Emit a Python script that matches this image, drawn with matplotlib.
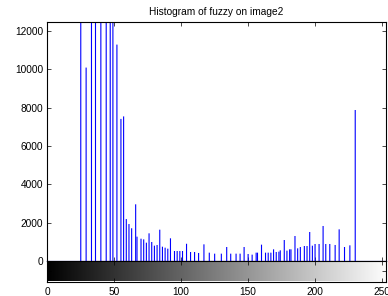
import numpy as np
import matplotlib
matplotlib.use("Agg")
import matplotlib.pyplot as plt

plt.rcParams['font.family'] = ['Liberation Sans', 'DejaVu Sans']

# histogram bins (gray levels) and counts
bins = [25, 29, 33, 36, 40, 44, 47, 49, 52, 55, 57,
        59, 61, 63, 66, 67, 70, 72, 74, 76, 78, 80, 82, 84, 86, 88, 90, 92,
        95, 97, 99, 101, 104, 107, 110, 113, 117, 121, 125, 130, 134, 137,
        141, 144, 147, 150, 153, 156, 157, 160, 163, 165, 167, 169, 171, 173,
        174, 177, 179, 181, 182, 185, 187, 189, 192, 194, 196, 198, 200, 203,
        206, 208, 211, 215, 218, 222, 226, 230]
counts = [24000, 10100, 26000, 21000, 30000, 19000, 23000, 17000, 11300, 7420, 7550,
          2190, 1930, 1710, 2960, 1270, 1165, 1130, 957, 1445, 992, 800, 836, 1635, 747, 695, 643, 1185,
          522, 522, 520, 522, 900, 470, 470, 418, 870, 435, 383, 383, 731, 383,
          383, 383, 731, 366, 331, 435, 435, 853, 435, 435, 435, 609, 470, 487,
          557, 1096, 540, 609, 609, 1305, 661, 731, 783, 783, 1514, 800, 888, 888,
          1828, 888, 888, 836, 1653, 731, 818, 7885]

yticks = [0, 2000, 4000, 6000, 8000, 10000, 12000]
xticks = [0, 50, 100, 150, 200, 250]
title = "Histogram of fuzzy on image2"

W, H = 388, 296
fig = plt.figure(figsize=(W / 100, H / 100), dpi=100)

left, right = 47.3, 385.5
top, mid, bot = 22.0, 261.0, 281.5
xmax = (right - left) / 1.3388

ax = fig.add_axes([left / W, 1 - mid / H, (right - left) / W, (mid - top) / H])
cax = fig.add_axes([left / W, 1 - bot / H, (right - left) / W, (bot - mid) / H])

fs = 7.3
stems = ax.vlines(bins, 0, counts, colors='#0000ff', linewidth=0.8)
stems.set_snap(False)
ax.axhline(0, color='#0000ff', linewidth=0.8, zorder=5, clip_on=False)
ax.set_xlim(0, xmax)
ax.set_ylim(0, 12480)
ax.set_yticks(yticks)
ax.set_yticklabels([str(v) for v in yticks])
ax.set_xticks(xticks)
ax.set_xticklabels([])
ax.tick_params(direction='in', length=3, width=0.5, labelsize=fs, pad=3,
               top=True, right=True, colors='black')
for s in ax.spines.values():
    s.set_linewidth(0.8)
ax.set_title(title, fontsize=fs, pad=5)

grad = np.linspace(0, 1, 256)[None, :]
cax.imshow(grad, cmap='gray', aspect='auto', extent=[-0.5, 255.5, 0, 1],
           vmin=0, vmax=1, interpolation='bilinear')
cax.set_xlim(0, xmax)
cax.set_ylim(0, 1)
cax.set_xticks(xticks)
cax.set_xticklabels([str(v) for v in xticks])
cax.set_yticks([0.5])
cax.set_yticklabels([])
cax.tick_params(direction='in', length=3, width=0.5, labelsize=fs, pad=4,
                top=True, right=True, colors='black')
for s in cax.spines.values():
    s.set_linewidth(0.8)

fig.savefig("out.png", dpi=100)
